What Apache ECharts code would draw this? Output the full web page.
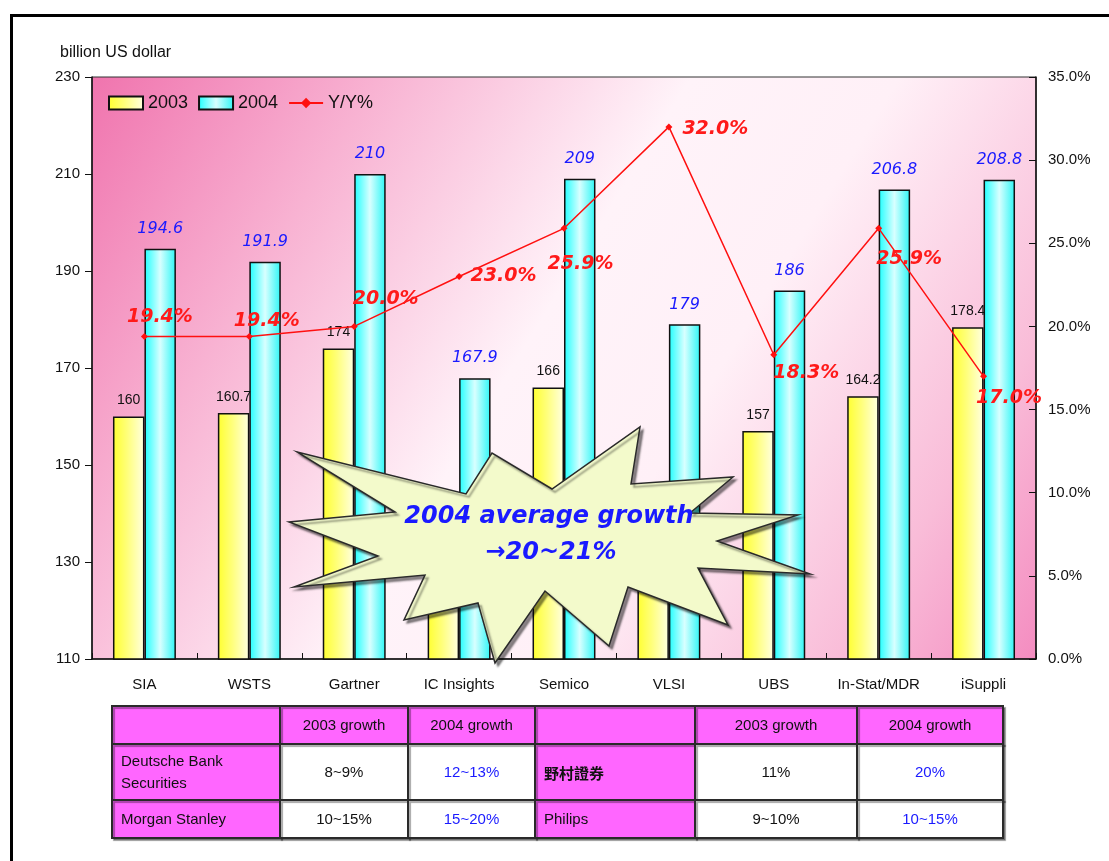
<!DOCTYPE html>
<html>
<head>
<meta charset="utf-8">
<script src="https://cdn.jsdelivr.net/npm/echarts@6/dist/echarts.min.js"></script>
<style>
html,body{margin:0;padding:0;background:#fff;}
#c{width:1109px;height:861px;}
</style>
</head>
<body>
<div id="c"></div>
<script>
// ---- data ----
const categories = ['SIA','WSTS','Gartner','IC Insights','Semico','VLSI','UBS','In-Stat/MDR','iSuppli'];
const rev2003 = [160, 160.7, 174, 136.5, 166, 135.6, 157, 164.2, 178.4];
const rev2004 = [194.6, 191.9, 210, 167.9, 209, 179, 186, 206.8, 208.8];
const yoy = [19.4, 19.4, 20.0, 23.0, 25.9, 32.0, 18.3, 25.9, 17.0];
const seriesNames = ['2003','2004','Y/Y%'];
const leftAxis = {min:110, max:230, interval:20};
const rightAxis = {min:0, max:35, interval:5};
const unitLabel = 'billion US dollar';
const calloutLines = ['2004 average growth', '\u219220~21%'];
const tableHeader = ['', '2003 growth', '2004 growth', '', '2003 growth', '2004 growth'];
const tableRow1 = ['Deutsche Bank\nSecurities', '8~9%', '12~13%', '野村證券', '11%', '20%'];
const tableRow2 = ['Morgan Stanley', '10~15%', '15~20%', 'Philips', '9~10%', '10~15%'];

// ---- styles / layout ----
const yoyLabelOffsets = [[-26,-19],[-24,-15],[-10,-27],[3,0],[-25,36],[5,2],[-9,18],[-11,31],[-16,22]];
const colX = [112, 280, 408, 535, 695, 857, 1003];
const rowY = [706, 744, 800, 838];
const MAG = '#ff66ff';
const starPts = [[297,452],[466,494],[492,453],[552,489],[640,427],[631,484],[733,477],[690,513],[798,515],[717,541],[810,574],[698,568],[728,625],[628,587],[609,646],[545,591],[495,663],[478,603],[404,620],[425,575],[294,587],[378,556],[289,522],[395,512]];

const chart = echarts.init(document.getElementById('c'), null, {renderer:'canvas'});

const tableRows = [tableHeader, tableRow1, tableRow2];
const tableEls = [];
for (let r = 0; r < 3; r++) {
  for (let c = 0; c < 6; c++) {
    const x0 = colX[c], x1 = colX[c+1], y0 = rowY[r], y1 = rowY[r+1];
    const magenta = (r === 0) || c === 0 || c === 3;
    tableEls.push({
      type:'rect', shape:{x:x0, y:y0, width:x1-x0, height:y1-y0},
      style:{fill: magenta ? MAG : '#ffffff', stroke:'#2a2a2a', lineWidth:2,
             shadowColor:'rgba(0,0,0,0.35)', shadowOffsetX:2, shadowOffsetY:2, shadowBlur:1},
      z:1
    });
    const txt = tableRows[r][c];
    if (!txt) continue;
    const leftAligned = (c === 0 || c === 3) && r > 0;
    const isCJK = /[\u4e00-\u9fff]/.test(txt);
    tableEls.push({
      type:'text',
      x: leftAligned ? x0 + 9 : (x0 + x1) / 2,
      y: (y0 + y1) / 2 + 1,
      style:{text: txt, fill: (c === 2 || c === 5) && r > 0 ? '#1a1aff' : '#111',
             font: (isCJK ? 'bold 15px "Noto Sans CJK TC"' : '15px "Liberation Sans", Arial'),
             align: leftAligned ? 'left' : 'center', verticalAlign:'middle', lineHeight:22},
      z:2
    });
  }
}

const option = {
  backgroundColor:'#ffffff',
  animation:false,
  title:{text:unitLabel, left:55, top:40, textStyle:{fontSize:16, fontWeight:'normal', color:'#111', fontFamily:'"Liberation Sans", Arial'}},
  legend:{
    data: [
      {name:seriesNames[0], icon:'rect'},
      {name:seriesNames[1], icon:'rect'},
      {name:seriesNames[2]}
    ],
    left:103, top:89, itemWidth:34, itemHeight:13, itemGap:10,
    textStyle:{fontSize:18, color:'#111', fontFamily:'"Liberation Sans", Arial'}
  },
  grid:{
    left:92, right:73, top:77, bottom:202, show:true,
    borderColor:'#333', borderWidth:1,
    backgroundColor: new echarts.graphic.LinearGradient(0,0,1,1,[
      {offset:0, color:'#f074ae'},
      {offset:0.22, color:'#f8b2d2'},
      {offset:0.46, color:'#fff3f9'},
      {offset:0.62, color:'#fff0f7'},
      {offset:0.85, color:'#f9bcd8'},
      {offset:1, color:'#f48cc0'}
    ])
  },
  xAxis:{
    type:'category', data:categories,
    axisLine:{lineStyle:{color:'#111', width:1.5}},
    axisTick:{show:true, inside:true, interval:0, length:6, lineStyle:{color:'#111'}},
    axisLabel:{interval:0, fontSize:15, color:'#111', margin:18, fontFamily:'"Liberation Sans", Arial'}
  },
  yAxis:[
    {type:'value', min:leftAxis.min, max:leftAxis.max, interval:leftAxis.interval,
     axisLine:{show:true, lineStyle:{color:'#111', width:1.5}},
     axisTick:{show:true, length:7, lineStyle:{color:'#111'}},
     splitLine:{show:false},
     axisLabel:{fontSize:15, color:'#111', margin:12, fontFamily:'"Liberation Sans", Arial'}},
    {type:'value', min:rightAxis.min, max:rightAxis.max, interval:rightAxis.interval, position:'right',
     axisLine:{show:true, lineStyle:{color:'#111', width:1.5}},
     axisTick:{show:true, inside:true, length:7, lineStyle:{color:'#111'}},
     splitLine:{show:false},
     axisLabel:{fontSize:15, color:'#111', margin:12, fontFamily:'"Liberation Sans", Arial',
       formatter: v => v.toFixed(1) + '%'}}
  ],
  series:[
    {
      name:seriesNames[0], type:'bar', data:rev2003, barGap:'0%', barCategoryGap:'40%',
      itemStyle:{
        color:new echarts.graphic.LinearGradient(0,0,1,0,[
          {offset:0,color:'#ffff30'},{offset:0.45,color:'#ffff7a'},{offset:1,color:'#ffffe2'}]),
        borderColor:'#111', borderWidth:1.5
      },
      label:{show:true, position:'top', distance:9, color:'#111', fontSize:14,
             fontFamily:'"Liberation Sans", Arial'}
    },
    {
      name:seriesNames[1], type:'bar', data:rev2004,
      itemStyle:{
        color:new echarts.graphic.LinearGradient(0,0,1,0,[
          {offset:0,color:'#1effff'},{offset:0.5,color:'#d8ffff'},{offset:1,color:'#2cf6f6'}]),
        borderColor:'#111', borderWidth:1.5
      },
      label:{show:true, position:'top', distance:12, color:'#1a1aff', fontSize:16, fontStyle:'italic',
             fontFamily:'"DejaVu Sans"'}
    },
    {
      name:seriesNames[2], type:'line', yAxisIndex:1, z:5,
      data: yoy.map((v,i) => ({value:v, label:{offset:yoyLabelOffsets[i]}})),
      symbol:'diamond', symbolSize:7,
      lineStyle:{color:'#ff1010', width:1.5},
      itemStyle:{color:'#ff1010'},
      label:{show:true, position:'right', distance:5, color:'#ff1a1a', fontSize:19,
             fontWeight:'bold', fontStyle:'italic', fontFamily:'"DejaVu Sans"',
             formatter: p => p.value.toFixed(1) + '%'}
    }
  ],
  graphic:[
    {type:'rect', shape:{x:11.5, y:15.5, width:1300, height:1000}, style:{fill:null, stroke:'#000', lineWidth:3}, z:100, silent:true},
    {type:'polygon', shape:{points:starPts},
     style:{fill:'#f3facb', stroke:'#2a2a2a', lineWidth:1.5,
            shadowColor:'rgba(0,0,0,0.45)', shadowOffsetX:3, shadowOffsetY:3, shadowBlur:2},
     z:100},
    {type:'text', x:549, y:517, z:101,
     style:{text:calloutLines[0], fill:'#1a1aff', font:'italic bold 24px "DejaVu Sans"', align:'center', verticalAlign:'middle'}},
    {type:'text', x:551, y:553, z:101,
     style:{text:calloutLines[1], fill:'#1a1aff', font:'italic bold 24px "DejaVu Sans"', align:'center', verticalAlign:'middle'}},
    {type:'group', children: tableEls, z:100}
  ]
};
chart.setOption(option);
</script>
</body>
</html>
